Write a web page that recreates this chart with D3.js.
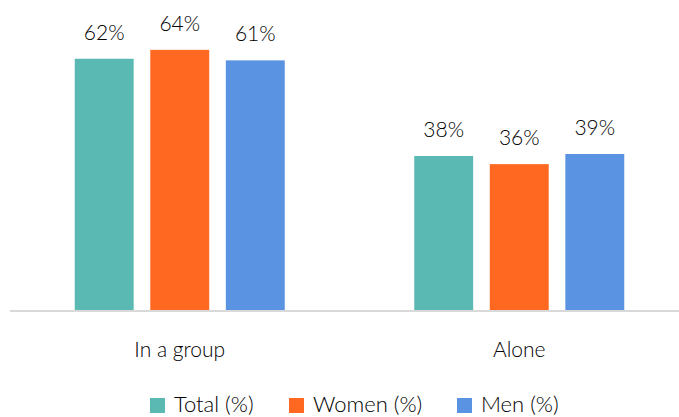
<!DOCTYPE html>
<html><head><meta charset="utf-8">
<script src="https://cdn.jsdelivr.net/npm/d3@7"></script>
<style>body{margin:0;background:#fff}svg{display:block}text{font-family:Lato,"Open Sans",sans-serif;font-weight:300;fill:#000}</style>
</head><body><svg id="c" width="679" height="417"></svg>
<script>
const categories = ["In a group", "Alone"];
const seriesNames = ["Total (%)", "Women (%)", "Men (%)"];
const totalVals = [62, 38];
const womenVals = [64.2, 36];
const menVals = [61.6, 38.5];
const totalLabels = ["62%", "38%"];
const womenLabels = ["64%", "36%"];
const menLabels = ["61%", "39%"];
const colors = ["#5BB9B3", "#FF6820", "#5B93E3"];

const seriesVals = [totalVals, womenVals, menVals];
const seriesLabels = [totalLabels, womenLabels, menLabels];
const svg = d3.select("#c");
const x0 = d3.scaleBand().domain(categories).range([10, 689]).paddingInner(0);
const x1 = d3.scaleBand().domain(d3.range(3)).range([-105, 105]).paddingInner(0.22);
const y = d3.scaleLinear().domain([0, 76.5]).range([310, 0]);

categories.forEach((cat, ci) => {
  const cx = x0(cat) + x0.bandwidth() / 2;
  seriesVals.forEach((vals, si) => {
    const v = vals[ci];
    svg.append("rect")
      .attr("x", cx + x1(si)).attr("width", x1.bandwidth())
      .attr("y", y(v)).attr("height", y(0) - y(v))
      .attr("fill", colors[si]);
    svg.append("text")
      .attr("x", cx + x1(si) + x1.bandwidth() / 2).attr("y", y(v) - 19)
      .attr("text-anchor", "middle").attr("font-size", 21)
      .text(seriesLabels[si][ci]);
  });
  svg.append("text").attr("x", cx).attr("y", 357).attr("text-anchor", "middle")
    .attr("font-size", 21).text(cat);
});

svg.append("line").attr("x1", 10).attr("x2", 679).attr("y1", 311).attr("y2", 311)
  .attr("stroke", "#d9d9d9").attr("stroke-width", 2);

const legX = [150, 289, 457];
seriesNames.forEach((n, i) => {
  svg.append("rect").attr("x", legX[i]).attr("y", 398).attr("width", 15).attr("height", 15).attr("fill", colors[i]);
  svg.append("text").attr("x", legX[i] + 24).attr("y", 412).attr("font-size", 22).text(n);
});
</script></body></html>
